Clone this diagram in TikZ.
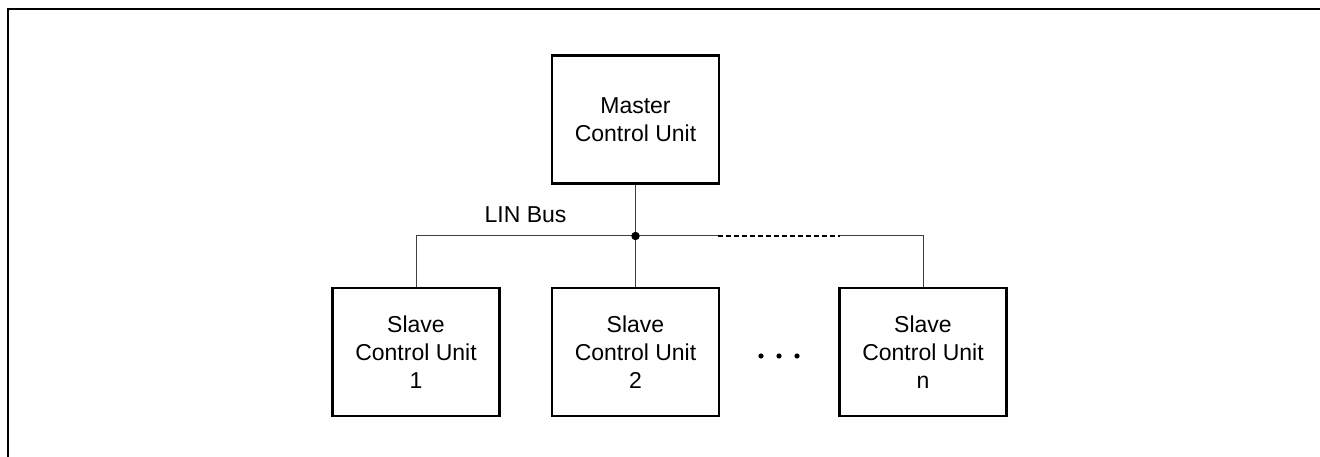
\documentclass[tikz,border=0pt]{standalone}
\usepackage{fontspec}
\setmainfont{Liberation Sans}
\begin{document}
\begin{tikzpicture}[x=1pt,y=-1pt,
  unit/.style={draw,line width=2.2pt,minimum width=167pt,minimum height=128pt,align=center,inner sep=0pt,
    font=\fontsize{23}{28}\selectfont},
  wire/.style={line width=1pt,black!75},
  lbl/.style={font=\fontsize{23}{28}\selectfont,inner sep=0pt}]
\useasboundingbox (0,0) rectangle (1320,457);
\draw[line width=1.6pt] (8,457) -- (8,9) -- (1320,9);
\node[unit] (m) at (635.5,119.5) {Master\\Control Unit};
\node[unit] (s1) at (416,352) {Slave\\Control Unit\\1};
\node[unit] (s2) at (635.5,352) {Slave\\Control Unit\\2};
\node[unit] (sn) at (923,352) {Slave\\Control Unit\\n};
\coordinate (j) at (635.5,236);
\coordinate (d1) at (718,236);
\coordinate (d2) at (840,236);
\draw[wire] (s1.north) |- (j);
\draw[wire] (m.south) -- (j) -- (s2.north);
\draw[wire] (j) -- (d1);
\draw[line width=1.4pt,dash pattern=on 5pt off 3pt] (d1) -- (d2);
\draw[wire] (d2) -| (sn.north);
\fill (j) circle (4.2pt);
\node[lbl,anchor=base] (lin) at (525.5,223) {LIN Bus};
\fill (761,356) circle (2.6pt) (779,356) circle (2.6pt) (797,356) circle (2.6pt);
\end{tikzpicture}
\end{document}
